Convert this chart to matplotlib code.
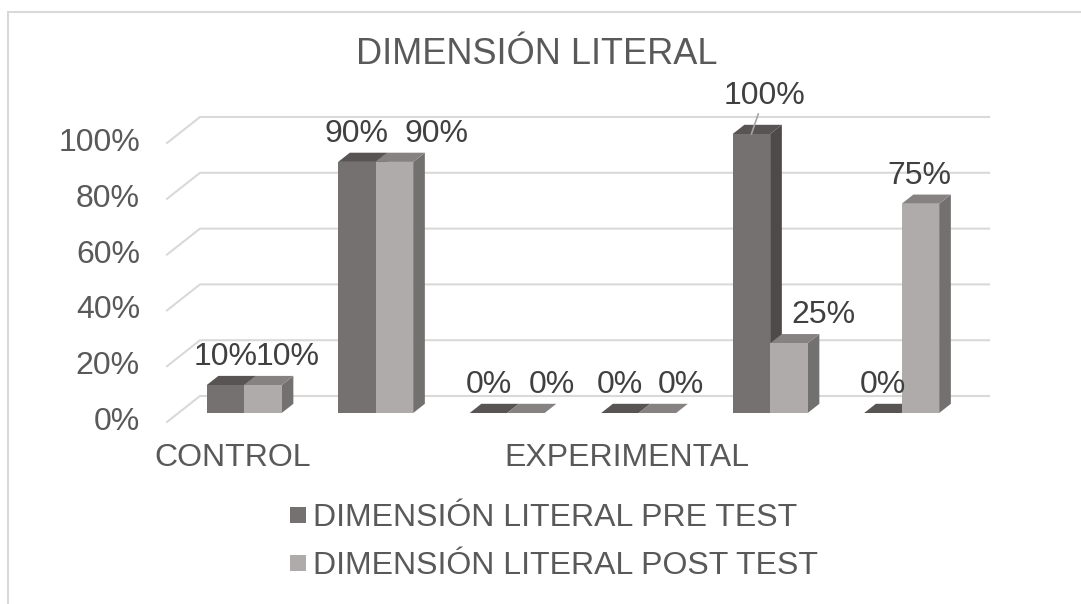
import matplotlib.pyplot as plt
from matplotlib.lines import Line2D
from matplotlib.patches import Polygon, Rectangle

# data
categories = ['CONTROL', '', '', 'EXPERIMENTAL', '', '']
pre_test = [10, 90, 0, 0, 100, 0]
post_test = [10, 90, 0, 0, 25, 75]
y_ticks = [0, 20, 40, 60, 80, 100]
series_names = ['DIMENSIÓN LITERAL PRE TEST', 'DIMENSIÓN LITERAL POST TEST']
title = 'DIMENSIÓN LITERAL'

# label nudges (pixels), Excel moved some labels around
pre_dx = [0, 0, 0, 0, 13, 0]
pre_dy = [0, 0, 0, 0, 10, 0]
post_dx = [25, 42, 26, 23, 35, -1]

plt.rcParams['font.family'] = ['Liberation Sans', 'DejaVu Sans']
FS = 23
TXT = '#595959'
LBL = '#404040'
GRID = '#d9d9d9'
PRE = {'front': '#767171', 'top': '#585454', 'side': '#4e4a49'}
POST = {'front': '#afabab', 'top': '#868282', 'side': '#737070'}

W, H = 1081, 604
fig = plt.figure(figsize=(W / 100, H / 100), dpi=100)
ax = fig.add_axes([0, 0, 1, 1])
ax.axis('off')

# pixel geometry of the pseudo 3d box
X0, UX = 232.75, 131.5     # group 0 center (front plane), pixels per group
Y0, UY = 422.0, 2.79       # 0% line (front plane), pixels per percent
DX, DY = 33 / UX, 26 / UY  # depth vector in data units
ZF, ZB = 0.346, 0.70       # bar front / back depth
BW = 37.5 / UX

ax.set_xlim(-X0 / UX, (W - X0) / UX)
ax.set_ylim((Y0 - H) / UY, Y0 / UY)


def P(x, v, z):
    return (x + z * DX, v + z * DY)


# chart border
fig.patches.append(Rectangle((8 / W, -0.1), 1.2, 1 - 12 / H + 0.1, transform=fig.transFigure,
                             fill=False, edgecolor=GRID, linewidth=1.5))

# gridlines + tick labels
for t in y_ticks:
    pts = [P(-0.5, t, 0), P(-0.5, t, 1), P(5.5, t, 1)]
    ax.plot([p[0] for p in pts], [p[1] for p in pts], color=GRID, lw=1.5, zorder=1)
    ax.annotate(f'{t}%', xy=P(-0.5, t, 0), xytext=(-27, 0), textcoords='offset pixels',
                ha='right', va='center', fontsize=FS, color=TXT)


def draw_faces(x0, vals, colors, z):
    for i, v in enumerate(vals):
        xa, xb = i + x0, i + x0 + BW
        top = [P(xa, v, ZF), P(xb, v, ZF), P(xb, v, ZB), P(xa, v, ZB)]
        side = [P(xb, 0, ZF), P(xb, v, ZF), P(xb, v, ZB), P(xb, 0, ZB)]
        ax.add_patch(Polygon(side, closed=True, fc=colors['side'], ec='none', zorder=z))
        ax.add_patch(Polygon(top, closed=True, fc=colors['top'], ec='none', zorder=z))


xs = list(range(len(categories)))
draw_faces(-BW, pre_test, PRE, 2)
ax.bar([x - BW + ZF * DX for x in xs], pre_test, width=BW, bottom=ZF * DY, align='edge',
       color=PRE['front'], lw=0, zorder=3)
draw_faces(0, post_test, POST, 5)
ax.bar([x + ZF * DX for x in xs], post_test, width=BW, bottom=ZF * DY, align='edge',
       color=POST['front'], lw=0, zorder=6)

# data labels
for i in xs:
    v = pre_test[i]
    kw = {}
    if pre_dy[i]:
        kw['arrowprops'] = dict(arrowstyle='-', color='#a6a6a6', lw=1.2, shrinkA=0, shrinkB=0)
    ax.annotate(f'{v}%', xy=P(i - BW / 2, v, ZF), xytext=(pre_dx[i], 28 + pre_dy[i]),
                textcoords='offset pixels', ha='center', va='center', fontsize=FS,
                color=LBL, zorder=10, **kw)
    v = post_test[i]
    ax.annotate(f'{v}%', xy=P(i + BW / 2, v, ZF), xytext=(post_dx[i], 28),
                textcoords='offset pixels', ha='center', va='center', fontsize=FS,
                color=LBL, zorder=10)

# category labels
for i, c in enumerate(categories):
    if c:
        ax.annotate(c, xy=P(i, 0, 0), xytext=(0, -36), textcoords='offset pixels',
                    ha='center', va='center', fontsize=FS, color=TXT)

fig.text(537 / W, 1 - 54 / H, title, ha='center', va='center', fontsize=26, color=TXT)

handles = [Line2D([], [], ls='none', marker='s', markersize=11, markeredgewidth=0,
                  color=c['front'], label=n) for c, n in zip([PRE, POST], series_names)]
ax.legend(handles=handles, loc='center', bbox_to_anchor=(554 / W, 1 - 542 / H),
          bbox_transform=fig.transFigure, frameon=False, fontsize=FS, labelcolor=TXT,
          handlelength=0.55, handletextpad=0.2, labelspacing=0.55)

fig.savefig('out.png', dpi=100)
